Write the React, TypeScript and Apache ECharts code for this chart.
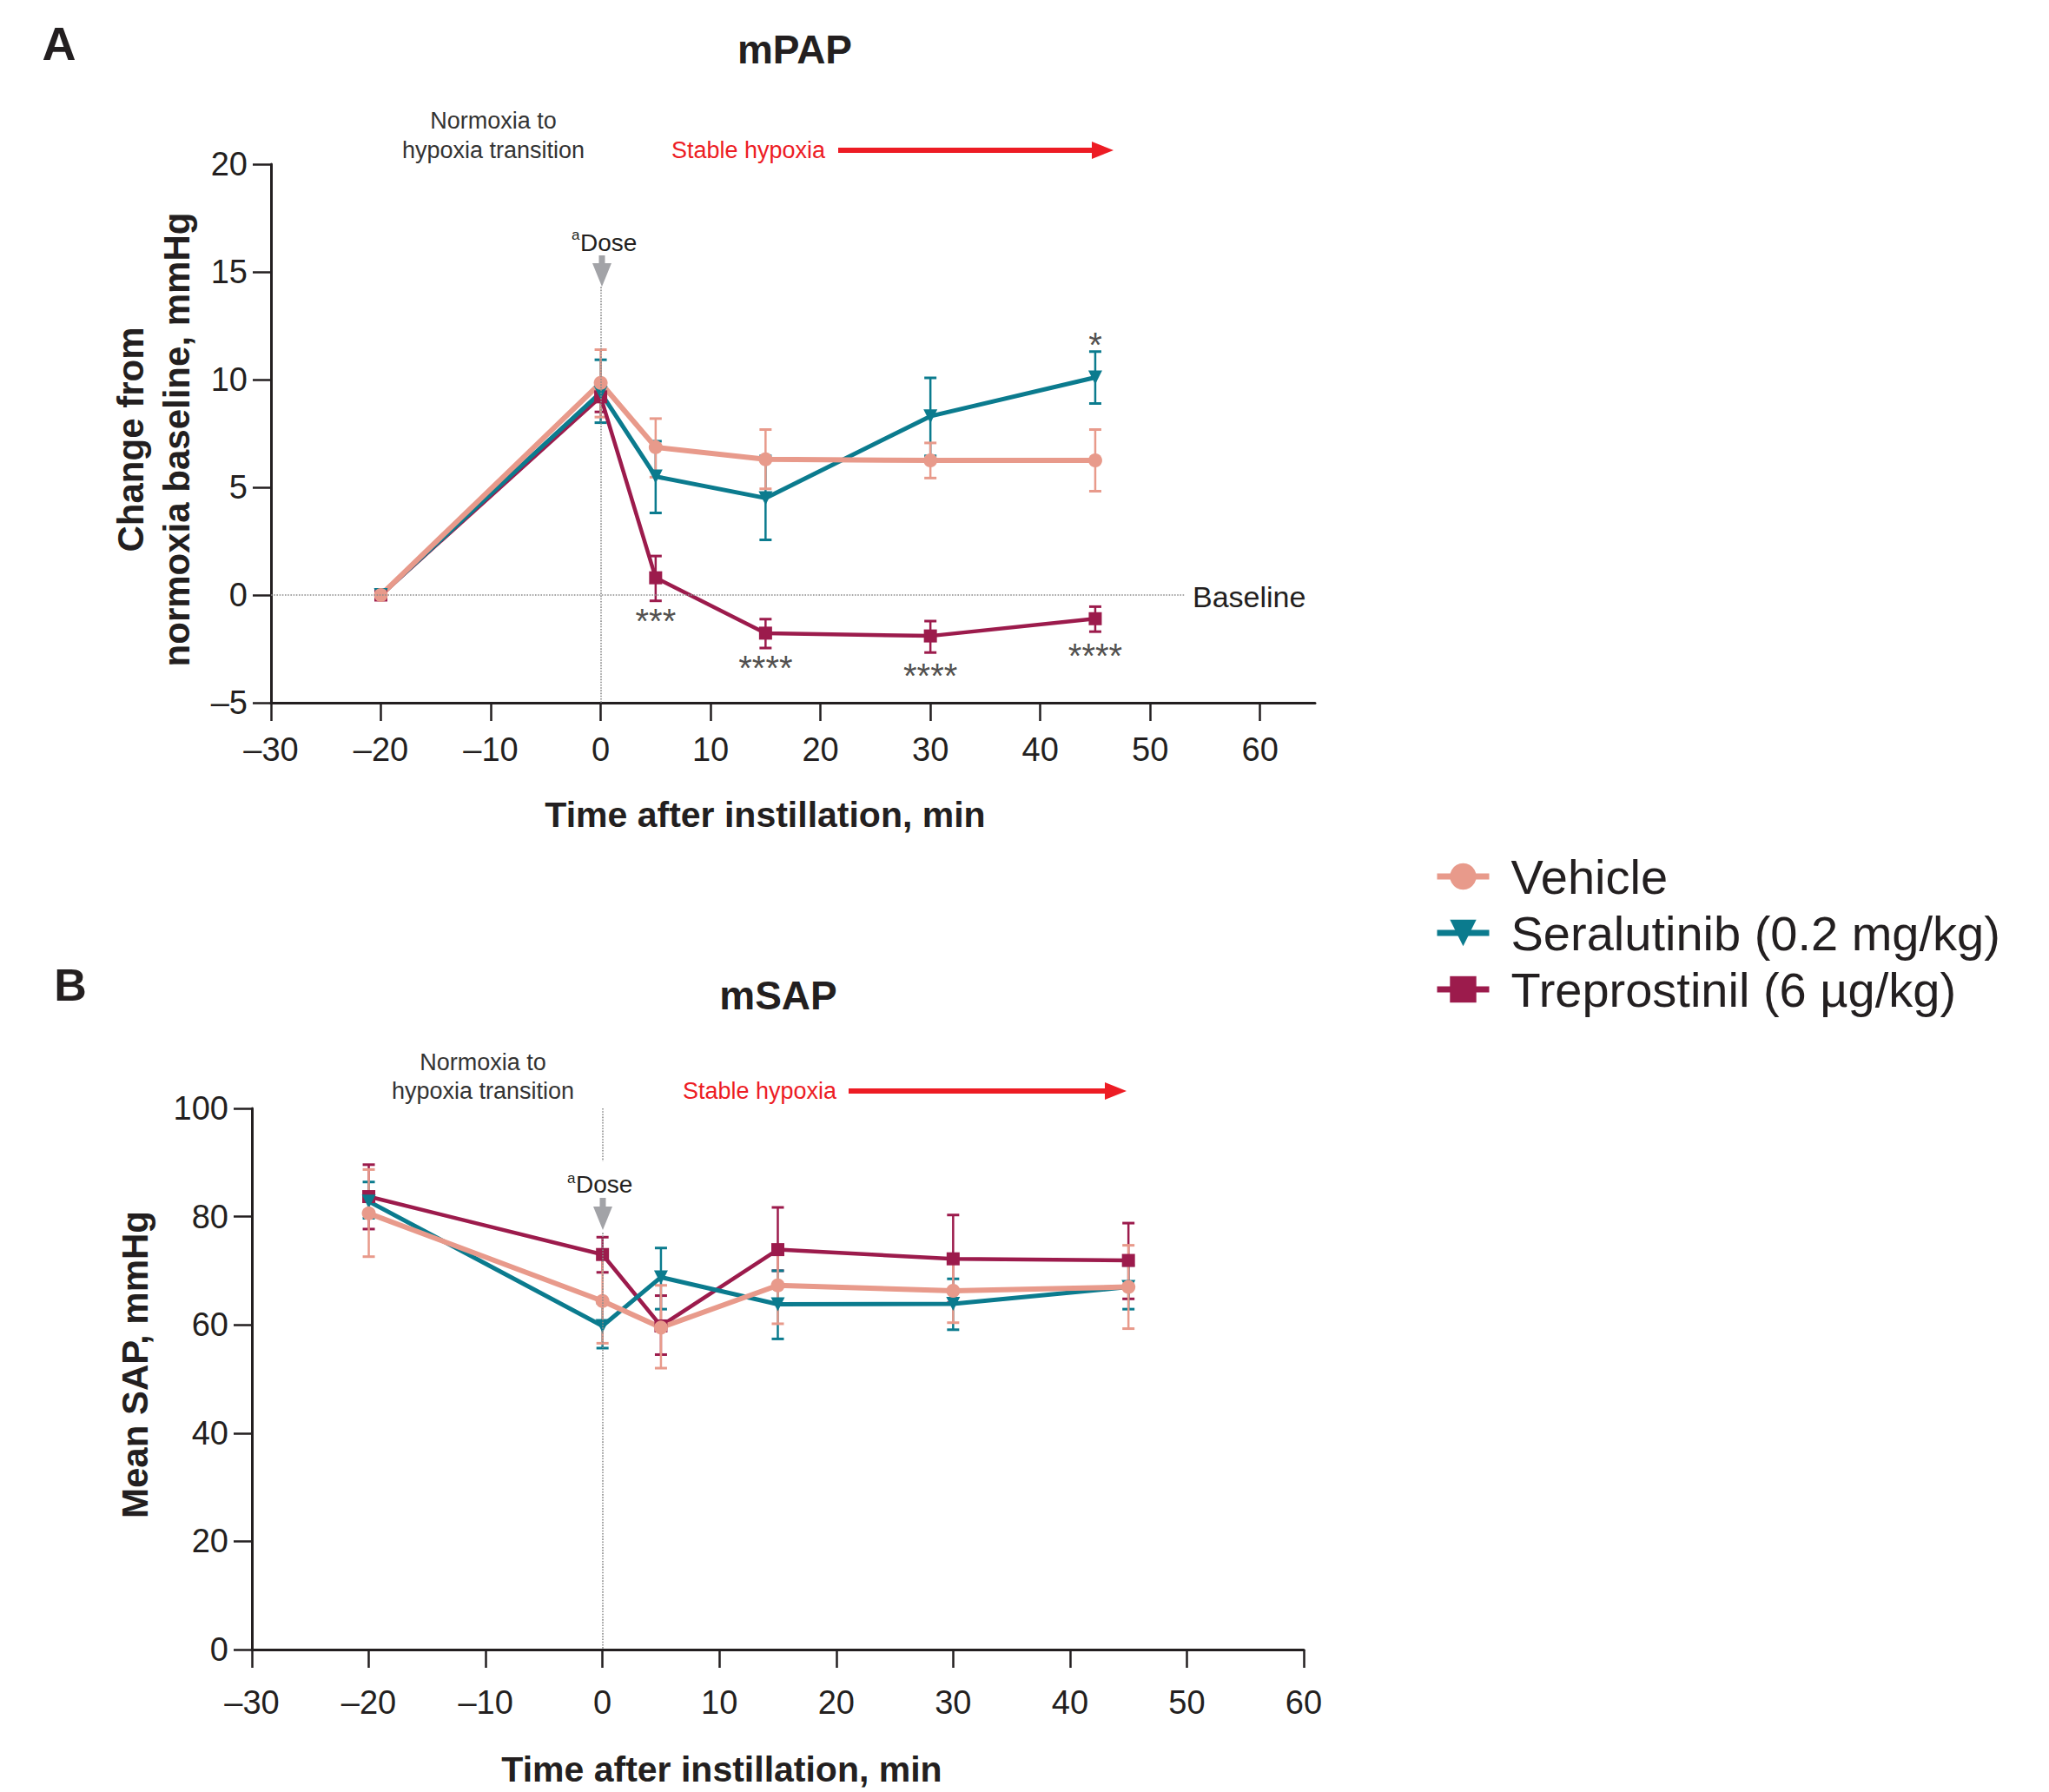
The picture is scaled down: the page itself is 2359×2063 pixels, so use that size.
import React, { useEffect, useRef } from 'react';
import * as echarts from 'echarts';

// ---------- data ----------
const times = [-20, 0, 5, 15, 30, 45];
const xTicks = [-30, -20, -10, 0, 10, 20, 30, 40, 50, 60];
const yTicksA = [-5, 0, 5, 10, 15, 20];
const yTicksB = [0, 20, 40, 60, 80, 100];

const seriesNames = ['Vehicle', 'Seralutinib (0.2 mg/kg)', 'Treprostinil (6 µg/kg)'];

// Panel A: mPAP change from normoxia baseline (mmHg)
const vehicleA = [0, 9.85, 6.86, 6.3, 6.25, 6.25];
const vehicleALo = [0, 8.26, 5.47, 4.93, 5.43, 4.82];
const vehicleAHi = [0, 11.39, 8.19, 7.68, 7.06, 7.68];
const seralA = [0, 9.4, 5.5, 4.5, 8.3, 10.1];
const seralALo = [0, 8.0, 3.81, 2.56, 6.46, 8.89];
const seralAHi = [0, 10.92, 7.14, 6.46, 10.08, 11.3];
const trepA = [0, 9.2, 0.8, -1.77, -1.9, -1.1];
const trepALo = [0, 8.5, -0.27, -2.46, -2.67, -1.7];
const trepAHi = [0, 9.9, 1.81, -1.12, -1.21, -0.54];

// significance marks, panel A
const starTimesA = [5, 15, 30, 45, 45];
const starYA = [-0.85, -3.04, -3.4, -2.46, 11.98];
const starTextA = ['***', '****', '****', '****', '*'];

// Panel B: mean SAP (mmHg)
const vehicleB = [80.6, 64.4, 59.5, 67.3, 66.3, 67.0];
const vehicleBLo = [72.6, 56.6, 52.0, 60.2, 60.4, 59.3];
const vehicleBHi = [88.7, 72.2, 67.3, 74.2, 72.2, 74.7];
const seralB = [82.8, 59.8, 68.8, 63.8, 63.9, 67.0];
const seralBLo = [79.7, 55.7, 62.9, 57.4, 59.1, 62.9];
const seralBHi = [86.4, 64.0, 74.2, 70.0, 68.5, 71.0];
const trepB = [83.7, 73.0, 59.8, 73.9, 72.2, 71.9];
const trepBLo = [77.7, 69.7, 54.5, 70.0, 64.1, 64.8];
const trepBHi = [89.6, 76.2, 65.4, 81.7, 80.3, 78.8];

// ---------- styles ----------
const FF = "'Liberation Sans', Arial, Helvetica, sans-serif";
const TXT = '#231F20';
const C_VEH = '#E89A8B';
const C_SER = '#0B7B8E';
const C_TRE = '#9C1B4C';
const RED = '#ED1C24';
const GREY = '#A2A3A7';
const TRI_DOWN = 'path://M0,0 L10,0 L5,9 Z';

const fmt = (v: number) => (v < 0 ? '\u2013' + Math.abs(v) : String(v));

function makeXAxis(gridIndex: number, max: number, margin: number) {
  return {
    gridIndex,
    type: 'value',
    min: -30,
    max,
    interval: 10,
    axisLine: { show: true, onZero: false, lineStyle: { color: TXT, width: 3 } },
    axisTick: { show: true, length: 21, customValues: xTicks, lineStyle: { color: TXT, width: 2.5 } },
    axisLabel: { customValues: xTicks, formatter: fmt, fontSize: 38, color: TXT, fontFamily: FF, margin },
    splitLine: { show: false },
  };
}

function makeYAxis(gridIndex: number, min: number, max: number, interval: number, ticks: number[]) {
  return {
    gridIndex,
    type: 'value',
    min,
    max,
    interval,
    axisLine: { show: true, onZero: false, lineStyle: { color: TXT, width: 3 } },
    axisTick: { show: true, length: 21, customValues: ticks, lineStyle: { color: TXT, width: 2.5 } },
    axisLabel: { customValues: ticks, formatter: fmt, fontSize: 38, color: TXT, fontFamily: FF, margin: 27 },
    splitLine: { show: false },
  };
}

function errSeries(name: string, color: string, idx: number, lo: number[], hi: number[]) {
  return {
    type: 'custom',
    name,
    xAxisIndex: idx,
    yAxisIndex: idx,
    silent: true,
    data: times.map((t, i) => [t, lo[i], hi[i]]),
    encode: { x: 0, y: [1, 2] },
    renderItem: (params: any, api: any) => {
      const x = api.value(0);
      const l = api.value(1);
      const h = api.value(2);
      if (l === h) return { type: 'group', children: [] };
      const top = api.coord([x, h]);
      const bot = api.coord([x, l]);
      const hw = 7;
      return {
        type: 'group',
        children: [
          { type: 'line', shape: { x1: top[0], y1: top[1], x2: bot[0], y2: bot[1] }, style: { stroke: color, lineWidth: 2.5 } },
          { type: 'line', shape: { x1: top[0] - hw, y1: top[1], x2: top[0] + hw, y2: top[1] }, style: { stroke: color, lineWidth: 3 } },
          { type: 'line', shape: { x1: bot[0] - hw, y1: bot[1], x2: bot[0] + hw, y2: bot[1] }, style: { stroke: color, lineWidth: 3 } },
        ],
      };
    },
  };
}

function lineSeries(name: string, color: string, idx: number, vals: number[], symbol: string, size: number, width: number) {
  return {
    type: 'line',
    name,
    xAxisIndex: idx,
    yAxisIndex: idx,
    data: times.map((t, i) => [t, vals[i]]),
    symbol,
    symbolSize: size,
    showSymbol: true,
    lineStyle: { color, width },
    itemStyle: { color },
    emphasis: { disabled: true },
  };
}

function txt(text: string, x: number, y: number, fontSize: number, opts: any = {}) {
  return {
    type: 'text',
    x,
    y,
    rotation: opts.rotation || 0,
    silent: true,
    style: {
      text,
      fontSize,
      fontFamily: FF,
      fontWeight: opts.bold ? 'bold' : 'normal',
      fill: opts.fill || TXT,
      align: opts.align || 'center',
      verticalAlign: 'middle',
    },
  };
}

function redArrow(x1: number, x2: number, y: number) {
  return [
    { type: 'line', silent: true, shape: { x1, y1: y, x2: x2 - 20, y2: y }, style: { stroke: RED, lineWidth: 6 } },
    { type: 'polygon', silent: true, shape: { points: [[x2 - 25, y - 10], [x2 - 25, y + 10], [x2, y]] }, style: { fill: RED } },
  ];
}

function greyArrow(x: number, y1: number, y2: number) {
  return [
    { type: 'rect', silent: true, shape: { x: x - 3.5, y: y1, width: 7, height: y2 - y1 - 22 }, style: { fill: GREY } },
    { type: 'polygon', silent: true, shape: { points: [[x - 11, y2 - 27], [x + 11, y2 - 27], [x, y2]] }, style: { fill: GREY } },
  ];
}

const dotted = { color: '#8c8c8c', type: 'dotted', width: 1.6 };

export default function App() {
  const ref = useRef<HTMLDivElement>(null);

  useEffect(() => {
    document.body.style.margin = '0';
    if (!ref.current) return;
    const chart = echarts.init(ref.current, undefined, { renderer: 'svg' });

    const option: any = {
      animation: false,
      backgroundColor: '#ffffff',
      grid: [
        { left: 312, top: 189, width: 1202, height: 620 },
        { left: 290, top: 1276, width: 1211, height: 623 },
      ],
      xAxis: [makeXAxis(0, 65, 35), makeXAxis(1, 60, 42)],
      yAxis: [makeYAxis(0, -5, 20, 5, yTicksA), makeYAxis(1, 0, 100, 20, yTicksB)],
      legend: {
        data: seriesNames,
        orient: 'vertical',
        left: 1646,
        top: 976,
        itemWidth: 60,
        itemHeight: 38,
        itemGap: 9,
        lineStyle: { width: 7 },
        selectedMode: false,
        textStyle: { fontSize: 56, color: TXT, fontFamily: FF, padding: [0, 0, 0, 20] },
      },
      series: [
        // reference lines (panel A)
        {
          type: 'line',
          name: 'refA',
          xAxisIndex: 0,
          yAxisIndex: 0,
          data: [],
          silent: true,
          markLine: {
            silent: true,
            symbol: ['none', 'none'],
            label: { show: false },
            lineStyle: dotted,
            data: [
              [{ coord: [-30, 0] }, { coord: [53.2, 0] }],
              [{ coord: [0, 20.1] }, { coord: [0, 17.4] }],
              [{ coord: [0, 14.3] }, { coord: [0, -5] }],
            ],
          },
        },
        {
          type: 'line',
          name: 'refB',
          xAxisIndex: 1,
          yAxisIndex: 1,
          data: [],
          silent: true,
          markLine: {
            silent: true,
            symbol: ['none', 'none'],
            label: { show: false },
            lineStyle: dotted,
            data: [
              [{ coord: [0, 100] }, { coord: [0, 90.2] }],
              [{ coord: [0, 77] }, { coord: [0, 0] }],
            ],
          },
        },
        // panel A
        errSeries('errTA', C_TRE, 0, trepALo, trepAHi),
        lineSeries(seriesNames[2], C_TRE, 0, trepA, 'rect', 15, 4.5),
        errSeries('errSA', C_SER, 0, seralALo, seralAHi),
        lineSeries(seriesNames[1], C_SER, 0, seralA, TRI_DOWN, 16, 5),
        errSeries('errVA', C_VEH, 0, vehicleALo, vehicleAHi),
        lineSeries(seriesNames[0], C_VEH, 0, vehicleA, 'circle', 16, 6),
        // panel B
        errSeries('errTB', C_TRE, 1, trepBLo, trepBHi),
        lineSeries(seriesNames[2], C_TRE, 1, trepB, 'rect', 15, 4.5),
        errSeries('errSB', C_SER, 1, seralBLo, seralBHi),
        lineSeries(seriesNames[1], C_SER, 1, seralB, TRI_DOWN, 16, 5),
        errSeries('errVB', C_VEH, 1, vehicleBLo, vehicleBHi),
        lineSeries(seriesNames[0], C_VEH, 1, vehicleB, 'circle', 16, 6),
        // significance
        {
          type: 'scatter',
          name: 'stars',
          xAxisIndex: 0,
          yAxisIndex: 0,
          silent: true,
          symbolSize: 1,
          itemStyle: { color: 'rgba(0,0,0,0)' },
          data: starTimesA.map((t, i) => [t, starYA[i], starTextA[i]]),
          label: {
            show: true,
            position: 'inside',
            formatter: (p: any) => p.value[2],
            fontSize: 40,
            fontFamily: FF,
            color: TXT,
            offset: [0, 9],
          },
        },
      ],
      graphic: [
        // panel letters and titles
        txt('A', 68, 50, 54, { bold: true }),
        txt('mPAP', 915, 57, 46, { bold: true }),
        txt('B', 81, 1134, 52, { bold: true }),
        txt('mSAP', 896, 1146, 46, { bold: true }),
        // axis titles
        txt('Time after instillation, min', 881, 938, 41, { bold: true }),
        txt('Time after instillation, min', 831, 2037, 41, { bold: true }),
        txt('Change from', 150, 506, 42, { bold: true, rotation: Math.PI / 2 }),
        txt('normoxia baseline, mmHg', 203, 506, 42, { bold: true, rotation: Math.PI / 2 }),
        txt('Mean SAP, mmHg', 155, 1571, 42, { bold: true, rotation: Math.PI / 2 }),
        // annotations panel A
        txt('Normoxia to', 568, 139, 27, { fill: '#333333' }),
        txt('hypoxia transition', 568, 173, 27, { fill: '#333333' }),
        txt('Stable hypoxia', 773, 173, 27, { fill: RED, align: 'left' }),
        ...redArrow(965, 1282, 173),
        txt('a', 658, 270, 17, { align: 'left' }),
        txt('Dose', 668, 279, 28, { align: 'left' }),
        ...greyArrow(693, 294, 330),
        txt('Baseline', 1373, 687, 34, { align: 'left' }),
        // annotations panel B
        txt('Normoxia to', 556, 1223, 27, { fill: '#333333' }),
        txt('hypoxia transition', 556, 1256, 27, { fill: '#333333' }),
        txt('Stable hypoxia', 786, 1256, 27, { fill: RED, align: 'left' }),
        ...redArrow(977, 1297, 1256),
        txt('a', 653, 1356, 17, { align: 'left' }),
        txt('Dose', 663, 1363, 28, { align: 'left' }),
        ...greyArrow(694, 1379, 1416),
      ],
    };

    chart.setOption(option);
    return () => chart.dispose();
  }, []);

  return <div ref={ref} style={{ width: 2359, height: 2063 }} />;
}
